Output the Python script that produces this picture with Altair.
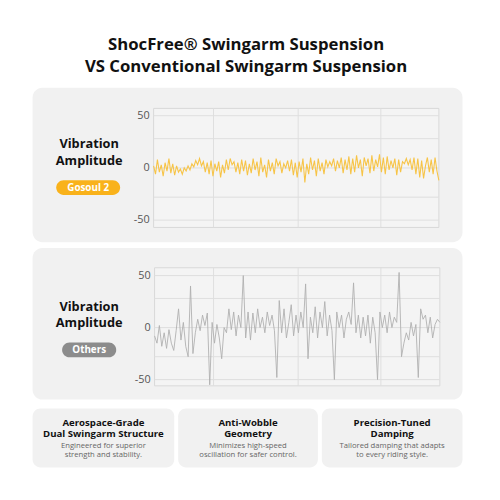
import altair as alt
import pandas as pd

# ---------------- data ----------------
gosoul_amp = [2, -6, 8, -4, 3, -8, 5, -3, 9, -5, 4, -7, 2, -4, -1, -6, 0, -3, 2, -2,
              4, 1, 7, 3, 9, 2, 6, -4, 5, -6, 7, -8, 4, -3, 6, -9, 3, -5, 8, -2,
              9, 3, 6, -4, 5, -6, 8, -3, 7, -7, 4, -5, 9, -2, 6, -8, 10, -4, 3, -9,
              8, -3, 5, -6, 9, 2, 6, -5, 4, 0, 7, -3, 8, -7, 5, -9, 6, -4, 9, -14,
              4, -6, 10, -2, 7, -8, 9, -3, 5, -6, 8, 1, 6, 2, 9, -3, 7, 0, 10, -5,
              8, -2, 11, -6, 9, -4, 12, 0, 8, -8, 10, 2, 9, -5, 12, -3, 8, 1, 13, -4,
              10, -6, 11, -2, 7, 0, 9, -7, 8, -4, 6, 4, 9, 3, 8, -2, 10, -6, 9, -9,
              7, -10, 2, 10, -4, 8, -6, 10, -3, -12]

others_amp = [-8, -15, 2, -18, -5, -20, -2, -15, -22, -3, 18, -12, 5, -18, -28, 40, -25, -5, 8, -3,
              12, 2, 14, -55, 5, -15, 3, -10, -30, 0, -5, 18, -2, 15, -8, 12, 0, 50, -10, 15,
              -12, 14, -5, 18, 0, 10, -5, 15, 2, 12, -3, -48, 26, -5, 18, -10, 5, 22, -8, 12,
              -5, 15, 0, 42, -30, 10, -5, 20, -10, 15, 0, 25, -8, 12, -3, -50, 15, 0, 12, -10,
              8, 15, 3, 43, -5, 12, -10, 10, -8, 12, -15, 10, -5, -50, 15, 0, 12, -5, 15, 0,
              10, 5, 53, -28, -15, -5, -12, 5, -8, 3, -48, 18, 8, 12, -5, 10, -10, 3, 8, 5]

y_tick_values = [50, 0, -50]
y_tick_labels = ["50", "0", "-50"]
y_grid_values = [50, 28, 0, -28, -50]
x_grid_gosoul = [31.3, 75.5, 118.7]
x_grid_others = [24.6, 59.9, 94.4]

title_lines = ["ShocFree® Swingarm Suspension", "VS Conventional Swingarm Suspension"]
side_label = ["Vibration", "Amplitude"]
badges = ["Gosoul 2", "Others"]
card_titles = [["Aerospace-Grade", "Dual Swingarm Structure"],
               ["Anti-Wobble", "Geometry"],
               ["Precision-Tuned", "Damping"]]
card_subs = [["Engineered for superior", "strength and stability."],
             ["Minimizes high-speed", "oscillation for safer control."],
             ["Tailored damping that adapts", "to every riding style."]]

FONT = "Open Sans"
ONE = alt.Data(values=[{}])


def box(x0, x1, y0, y1, color, radius=0, stroke=None):
    kw = dict(color=color, cornerRadius=radius) if stroke is None else dict(fill=color, stroke=stroke, strokeWidth=1)
    return alt.Chart(ONE).mark_rect(**kw).encode(
        x=alt.value(x0), x2=alt.value(x1), y=alt.value(y0), y2=alt.value(y1))


def txt(s, x, y, size, color="#111111", weight="bold", align="center"):
    return alt.Chart(ONE).mark_text(
        font=FONT, fontSize=size, fontWeight=weight, color=color,
        align=align, baseline="middle").encode(
        x=alt.value(x), y=alt.value(y), text=alt.value(s))


def panel(values, xgrid, x0, x1, ytop, ybot, dom, color, width):
    df = pd.DataFrame({"i": list(range(len(values))), "v": values})
    xs = alt.Scale(domain=[0, len(values) - 1], range=[x0, x1], nice=False, zero=False)
    ys = alt.Scale(domain=dom, range=[ybot, ytop], nice=False, zero=False)
    frame = box(x0, x1, ytop, ybot, "#f4f4f4", stroke="#d8d8d8")
    hgrid = alt.Chart(pd.DataFrame({"g": y_grid_values})).mark_rule(
        color="#dedede", strokeWidth=1).encode(
        y=alt.Y("g:Q", scale=ys, axis=None), x=alt.value(x0), x2=alt.value(x1))
    vgrid = alt.Chart(pd.DataFrame({"g": xgrid})).mark_rule(
        color="#dedede", strokeWidth=1).encode(
        x=alt.X("g:Q", scale=xs, axis=None), y=alt.value(ytop), y2=alt.value(ybot))
    line = alt.Chart(df).mark_line(color=color, strokeWidth=width).encode(
        x=alt.X("i:Q", scale=xs, axis=None), y=alt.Y("v:Q", scale=ys, axis=None))
    labels = alt.Chart(pd.DataFrame({"t": y_tick_values, "s": y_tick_labels})).mark_text(
        font=FONT, fontSize=11, color="#555555", align="right", baseline="middle").encode(
        y=alt.Y("t:Q", scale=ys, axis=None), x=alt.value(x0 - 4), text="s:N")
    return alt.layer(frame, hgrid, vgrid, line, labels)


layers = []
# panel backgrounds
layers.append(box(25, 462, 77, 234, "#f1f1f1", 10))
layers.append(box(25, 462, 240, 394, "#f1f1f1", 10))
# cards
for cx0, cx1 in [(25, 169), (173, 315), (319, 462)]:
    layers.append(box(cx0, cx1, 403, 463, "#f1f1f1", 8))

layers.append(panel(gosoul_amp, x_grid_gosoul, 148, 438, 98, 219, [-57, 57], "#f7c447", 1.1))
layers.append(panel(others_amp, x_grid_others, 149, 439, 260, 380, [-56, 57.5], "#b0b0b0", 0.9))

# title
layers.append(txt(title_lines[0], 242, 33.5, 17))
layers.append(txt(title_lines[1], 242, 55.5, 17))

# side labels and badges
layers.append(txt(side_label[0], 82.5, 134.5, 13))
layers.append(txt(side_label[1], 82.5, 151.5, 13))
layers.append(box(49, 114, 171, 186, "#f9b21b", 8))
layers.append(txt(badges[0], 81.5, 178.5, 10, color="#ffffff"))

layers.append(txt(side_label[0], 82.5, 299.5, 13))
layers.append(txt(side_label[1], 82.5, 316.5, 13))
layers.append(box(55, 110, 336, 351, "#8c8c8c", 8))
layers.append(txt(badges[1], 82.5, 343.5, 10, color="#ffffff"))

# cards text
for cx, t, s in zip([97, 244, 390.5], card_titles, card_subs):
    layers.append(txt(t[0], cx, 417.5, 9.8))
    layers.append(txt(t[1], cx, 429.5, 9.8))
    layers.append(txt(s[0], cx, 441, 7.8, color="#666666", weight="normal"))
    layers.append(txt(s[1], cx, 450.5, 7.8, color="#666666", weight="normal"))

chart = alt.layer(*layers).resolve_scale(x="independent", y="independent").properties(
    width=492, height=492, padding=0,
    autosize=alt.AutoSizeParams(type="none"),
    background="#ffffff",
).configure_view(stroke=None)

chart.save("out.html", embed_options={"renderer": "svg", "actions": False})
